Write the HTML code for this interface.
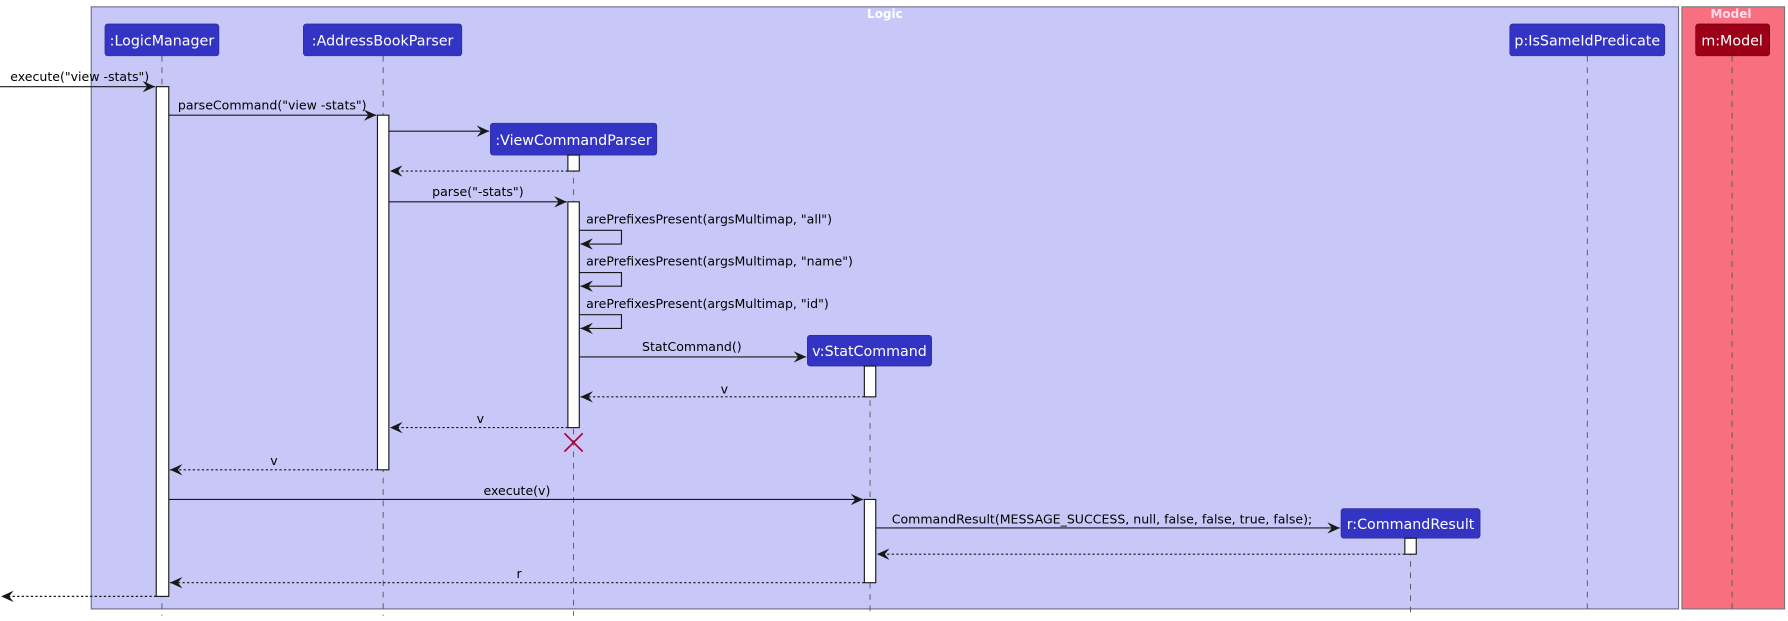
<!DOCTYPE html>
<html><head><meta charset="utf-8"><style>
html,body{margin:0;padding:0;background:#fff;width:1788px;height:621px;overflow:hidden}
text{font-family:"DejaVu Sans","Liberation Sans",sans-serif}
</style></head><body>
<svg width="1788" height="621" viewBox="0 0 1568 544.6" xmlns="http://www.w3.org/2000/svg">
<defs>
<marker id="a" viewBox="0 0 12 10" refX="11" refY="5" markerWidth="12" markerHeight="10" markerUnits="userSpaceOnUse" orient="auto"><path d="M0,0 L11,5 L0,10 L4,5 Z" fill="#181818"/></marker>
</defs>
<rect x="80" y="6" width="1392" height="528" fill="#C8C8F8" stroke="#6e6e88" stroke-width="1"/>
<text x="776" y="16" font-size="10.5" font-weight="bold" fill="#fff" text-anchor="middle">Logic</text>
<rect x="1475" y="6" width="90" height="528" fill="#F87080" stroke="#777" stroke-width="1"/>
<text x="1518" y="16" font-size="10.5" font-weight="bold" fill="#fde" text-anchor="middle">Model</text>
<g stroke="#555" stroke-width="0.8" stroke-dasharray="5,5">
<line x1="142" y1="49" x2="142" y2="540"/>
<line x1="336" y1="49" x2="336" y2="540"/>
<line x1="503" y1="136" x2="503" y2="540"/>
<line x1="763" y1="321" x2="763" y2="540"/>
<line x1="1237" y1="472" x2="1237" y2="540"/>
<line x1="1392" y1="49" x2="1392" y2="534"/>
<line x1="1519" y1="49" x2="1519" y2="534"/>
</g>
<g font-size="12.5" fill="#fff" text-anchor="middle">
<rect x="92" y="21" width="100" height="28" rx="2.5" fill="#3333C4" stroke="#262690" stroke-width="0.5"/><text x="142" y="40">:LogicManager</text>
<rect x="266" y="21" width="139" height="28" rx="2.5" fill="#3333C4" stroke="#262690" stroke-width="0.5"/><text x="335.5" y="40">:AddressBookParser</text>
<rect x="1324" y="21" width="136" height="28" rx="2.5" fill="#3333C4" stroke="#262690" stroke-width="0.5"/><text x="1392" y="40">p:IsSameIdPredicate</text>
<rect x="1487" y="21" width="65" height="28" rx="2.5" fill="#9B0018" stroke="#60000e" stroke-width="0.5"/><text x="1519" y="40">m:Model</text>
<rect x="430" y="108" width="146" height="28" rx="2.5" fill="#3333C4" stroke="#262690" stroke-width="0.5"/><text x="503" y="127">:ViewCommandParser</text>
<rect x="708" y="294" width="109" height="27" rx="2.5" fill="#3333C4" stroke="#262690" stroke-width="0.5"/><text x="762.5" y="312">v:StatCommand</text>
<rect x="1176" y="446" width="122" height="26" rx="2.5" fill="#3333C4" stroke="#262690" stroke-width="0.5"/><text x="1237" y="464">r:CommandResult</text>
</g>
<g fill="#fff" stroke="#181818" stroke-width="1">
<rect x="137" y="76" width="11" height="447"/>
<rect x="331" y="101" width="10" height="311"/>
<rect x="498" y="136" width="10" height="14"/>
<rect x="498" y="177" width="10" height="198"/>
<rect x="758" y="321" width="10" height="27"/>
<rect x="758" y="438" width="10" height="73"/>
<rect x="1232" y="472" width="10" height="14"/>
</g>
<g stroke="#181818" stroke-width="1" fill="none" marker-end="url(#a)">
<line x1="0" y1="76" x2="136" y2="76"/>
<line x1="148" y1="101" x2="330" y2="101"/>
<line x1="341" y1="115" x2="429" y2="115"/>
<line x1="498" y1="150" x2="342" y2="150" stroke-dasharray="2,2"/>
<line x1="341" y1="177" x2="497" y2="177"/>
<polyline points="508,202 545,202 545,214 509,214"/>
<polyline points="508,239 545,239 545,251 509,251"/>
<polyline points="508,276 545,276 545,288 509,288"/>
<line x1="508" y1="313" x2="707" y2="313"/>
<line x1="758" y1="348" x2="509" y2="348" stroke-dasharray="2,2"/>
<line x1="498" y1="375" x2="342" y2="375" stroke-dasharray="2,2"/>
<line x1="331" y1="412" x2="149" y2="412" stroke-dasharray="2,2"/>
<line x1="148" y1="438" x2="757" y2="438"/>
<line x1="768" y1="463" x2="1175" y2="463"/>
<line x1="1232" y1="486" x2="769" y2="486" stroke-dasharray="2,2"/>
<line x1="758" y1="511" x2="149" y2="511" stroke-dasharray="2,2"/>
<line x1="137" y1="523" x2="1" y2="523" stroke-dasharray="2,2"/>
</g>
<g stroke="#A80036" stroke-width="1.5"><line x1="495" y1="380" x2="511" y2="396"/><line x1="511" y1="380" x2="495" y2="396"/></g>
<g font-size="11" fill="#000">
<text x="9" y="71">execute("view -stats")</text>
<text x="156" y="96">parseCommand("view -stats")</text>
<text x="379" y="172">parse("-stats")</text>
<text x="514" y="196">arePrefixesPresent(argsMultimap, "all")</text>
<text x="514" y="233">arePrefixesPresent(argsMultimap, "name")</text>
<text x="514" y="270">arePrefixesPresent(argsMultimap, "id")</text>
<text x="563" y="308">StatCommand()</text>
<text x="632" y="345">v</text>
<text x="418" y="371">v</text>
<text x="237" y="408">v</text>
<text x="424" y="434">execute(v)</text>
<text x="782" y="459">CommandResult(MESSAGE_SUCCESS, null, false, false, true, false);</text>
<text x="453" y="507">r</text>
</g>
</svg>
</body></html>
